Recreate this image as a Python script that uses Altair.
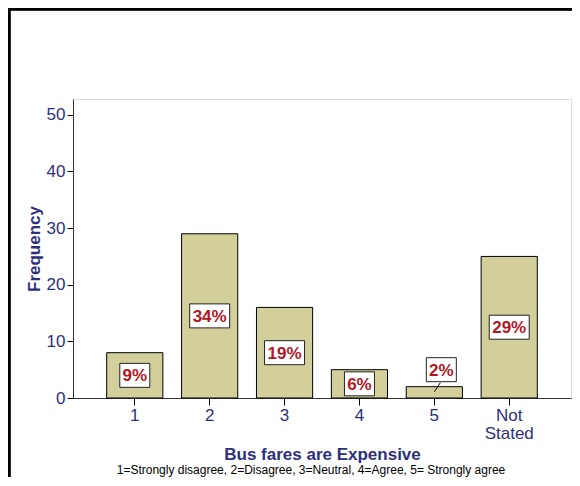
import altair as alt
import pandas as pd

categories = ["1", "2", "3", "4", "5", "Not Stated"]
counts = [8, 29, 16, 5, 2, 25]
pct_labels = ["9%", "34%", "19%", "6%", "2%", "29%"]
label_pos = [4.0, 14.5, 8.0, 2.5, 5.0, 12.5]
box_path = ["M-1,-0.8H1V0.8H-1Z", "M-1,-0.6H1V0.6H-1Z", "M-1,-0.6H1V0.6H-1Z",
            "M-1,-0.8H1V0.8H-1Z", "M-1,-0.8H1V0.8H-1Z", "M-1,-0.6H1V0.6H-1Z"]
box_size = [900, 1600, 1600, 900, 900, 1600]
subtitle_text = "1=Strongly disagree, 2=Disagree, 3=Neutral, 4=Agree, 5= Strongly agree"

NAVY = "#2d2f7c"
RED = "#b0181f"
FILL = "#d3cf9b"
FONT = "Liberation Sans"

df = pd.DataFrame({
    "cat": categories,
    "count": counts,
    "label": pct_labels,
    "lpos": label_pos,
    "shape": box_path,
    "size": box_size,
})
df["lead_lo"] = [None, None, None, None, 1.1, None]
df["lead_hi"] = [None, None, None, None, 2.7, None]

xenc = alt.X("cat:N", sort=categories,
             scale=alt.Scale(paddingInner=0.25, paddingOuter=0.45),
             axis=alt.Axis(title="Bus fares are Expensive", titleFontSize=17,
                           titleFontWeight="bold", titleColor=NAVY, titleFont=FONT,
                           titlePadding=5,
                           labelAngle=0, labelFontSize=17,
                           labelColor=NAVY, labelFont=FONT,
                           tickColor="#000000", tickSize=7, labelPadding=2,
                           domainColor="#333333",
                           labelLineHeight=18,
                           labelExpr="datum.label == 'Not Stated' ? ['Not', 'Stated'] : datum.label"))

yscale = alt.Scale(domain=[0, 52.8], nice=False)

bars = alt.Chart(df).mark_bar(fill=FILL, stroke="#000000", strokeWidth=1).encode(
    x=xenc,
    y=alt.Y("count:Q", scale=yscale,
            axis=alt.Axis(values=[0, 10, 20, 30, 40, 50], title="Frequency",
                          titleFontSize=17, titleFontWeight="bold", titleColor=NAVY,
                          titleFont=FONT, titlePadding=3,
                          labelFontSize=17, labelColor=NAVY, labelFont=FONT,
                          tickColor="#000000", tickSize=6, labelPadding=2,
                          domainColor="#333333", grid=False)),
)

lead_data = df[df["cat"] == "5"]
leader = alt.Chart(lead_data).mark_rule(color="#000000", strokeWidth=1, xOffset=0, x2Offset=6).encode(
    x=alt.X("cat:N", sort=categories),
    x2="cat:N",
    y="lead_lo:Q",
    y2="lead_hi:Q",
)

box_other = alt.Chart(df[df["cat"] != "5"]).mark_point(
    filled=True, fill="#ffffff", stroke="#222222", strokeWidth=1, opacity=1
).encode(
    x=alt.X("cat:N", sort=categories),
    y="lpos:Q",
    shape=alt.Shape("shape:N", scale=None),
    size=alt.Size("size:Q", scale=None),
)
box_five = alt.Chart(lead_data).mark_point(
    filled=True, fill="#ffffff", stroke="#222222", strokeWidth=1, opacity=1, xOffset=7
).encode(
    x=alt.X("cat:N", sort=categories),
    y="lpos:Q",
    shape=alt.Shape("shape:N", scale=None),
    size=alt.Size("size:Q", scale=None),
)

txt_other = alt.Chart(df[df["cat"] != "5"]).mark_text(
    font=FONT, fontSize=17, fontWeight="bold", color=RED, baseline="middle", dy=1
).encode(x=alt.X("cat:N", sort=categories), y="lpos:Q", text="label:N")
txt_five = alt.Chart(lead_data).mark_text(
    font=FONT, fontSize=17, fontWeight="bold", color=RED, baseline="middle", dy=1, dx=7
).encode(x=alt.X("cat:N", sort=categories), y="lpos:Q", text="label:N")

subtitle = alt.Chart(pd.DataFrame({"t": [subtitle_text]})).mark_text(
    font=FONT, fontSize=12, color="#000000", baseline="middle", align="center"
).encode(x=alt.value(238), y=alt.value(371), text="t:N")

frame_top = alt.Chart(df).mark_rule(color="#000000", strokeWidth=2.5).encode(
    x=alt.value(-66), x2=alt.value(520), y=alt.value(-90))
frame_left = alt.Chart(df).mark_rule(color="#000000", strokeWidth=2.5).encode(
    x=alt.value(-64), y=alt.value(-92), y2=alt.value(390))

chart = alt.layer(bars, leader, box_other, box_five, txt_other, txt_five, subtitle,
                  frame_top, frame_left).properties(
    width=498, height=299,
    autosize=alt.AutoSizeParams(type="none"),
    padding={"left": 65, "top": 91, "right": 1, "bottom": 79},
).configure_view(fill="#efefef", stroke="#3a3a3a", strokeWidth=1.5
).configure(background="#ffffff")

chart.save("out.html", embed_options={"renderer": "svg", "actions": False})
